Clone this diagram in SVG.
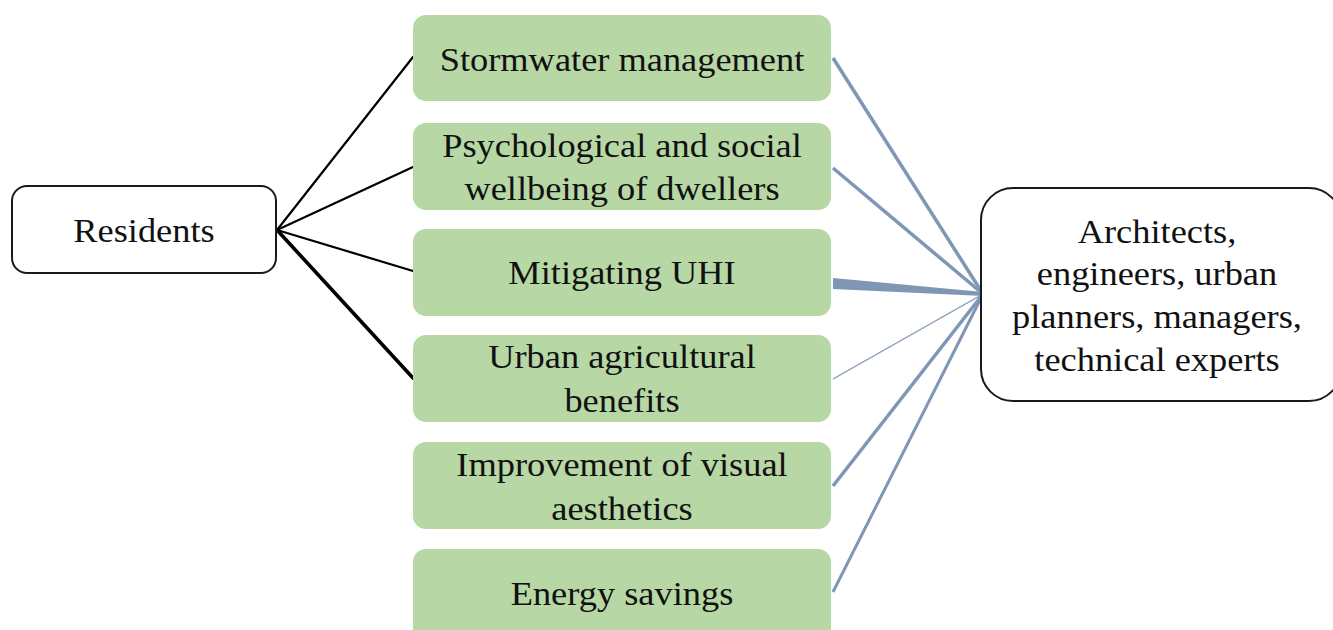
<svg xmlns="http://www.w3.org/2000/svg" width="1333" height="630" viewBox="0 0 1333 630">
  <style>
    .lbl { font-family: "Liberation Serif", "Times New Roman", serif; font-size: 34px; fill: #111; text-anchor: middle; }
    .outline { fill: #ffffff; stroke: #1a1a1a; stroke-width: 2; }
    .benefit { fill: #b7d7a5; }
    .res { stroke: #000; fill: none; stroke-linecap: round; }
    .pro { stroke: #7f97b5; fill: none; }
  </style>

  <rect width="1333" height="630" fill="#ffffff"/>

  <!-- connectors -->
  <g id="connectors">
    <line class="res" x1="277" y1="230" x2="413" y2="57" stroke-width="2.2"/>
    <line class="res" x1="277" y1="230" x2="413" y2="167" stroke-width="2.2"/>
    <line class="res" x1="277" y1="230" x2="413" y2="271" stroke-width="2.2"/>
    <line class="res" x1="277" y1="230" x2="413" y2="378" stroke-width="3.6"/>

    <line class="pro" x1="833" y1="58" x2="983" y2="294" stroke-width="3.5"/>
    <line class="pro" x1="833" y1="168" x2="983" y2="294" stroke-width="3.5"/>
    <path d="M833,278 L833,289 L983,296 L983,292 Z" fill="#7f97b5"/>
    <line class="pro" x1="833" y1="379" x2="983" y2="294" stroke-width="1.3"/>
    <line class="pro" x1="833" y1="486" x2="983" y2="294" stroke-width="3.5"/>
    <line class="pro" x1="833" y1="592" x2="983" y2="294" stroke-width="3"/>
  </g>

  <!-- stakeholder: residents -->
  <g id="residents">
    <rect class="outline" x="12" y="186" width="264" height="87" rx="15"/>
    <text class="lbl" transform="translate(144,242) scale(1.07,1)">Residents</text>
  </g>

  <!-- benefits -->
  <g id="stormwater">
    <rect class="benefit" x="413" y="15" width="418" height="86" rx="13"/>
    <text class="lbl" transform="translate(622,71) scale(1.07,1)">Stormwater management</text>
  </g>

  <g id="wellbeing">
    <rect class="benefit" x="413" y="123" width="418" height="87" rx="13"/>
    <text class="lbl" transform="translate(622,157) scale(1.07,1)">Psychological  and social</text>
    <text class="lbl" transform="translate(622,200) scale(1.07,1)">wellbeing of dwellers</text>
  </g>

  <g id="uhi">
    <rect class="benefit" x="413" y="229" width="418" height="87" rx="13"/>
    <text class="lbl" transform="translate(622,284) scale(1.07,1)">Mitigating UHI</text>
  </g>

  <g id="agriculture">
    <rect class="benefit" x="413" y="335" width="418" height="87" rx="13"/>
    <text class="lbl" transform="translate(622,368) scale(1.07,1)">Urban agricultural</text>
    <text class="lbl" transform="translate(622,412) scale(1.07,1)">benefits</text>
  </g>

  <g id="aesthetics">
    <rect class="benefit" x="413" y="442" width="418" height="87" rx="13"/>
    <text class="lbl" transform="translate(622,476) scale(1.07,1)">Improvement of visual</text>
    <text class="lbl" transform="translate(622,520) scale(1.07,1)">aesthetics</text>
  </g>

  <g id="energy">
    <rect class="benefit" x="413" y="549" width="418" height="95" rx="13"/>
    <text class="lbl" transform="translate(622,605) scale(1.07,1)">Energy savings</text>
  </g>

  <!-- stakeholder: professionals -->
  <g id="professionals">
    <rect class="outline" x="981" y="188" width="360" height="213" rx="32"/>
    <text class="lbl" transform="translate(1157,243) scale(1.07,1)">Architects,</text>
    <text class="lbl" transform="translate(1157,285) scale(1.07,1)">engineers, urban</text>
    <text class="lbl" transform="translate(1157,328) scale(1.07,1)">planners, managers,</text>
    <text class="lbl" transform="translate(1157,371) scale(1.07,1)">technical experts</text>
  </g>
</svg>
